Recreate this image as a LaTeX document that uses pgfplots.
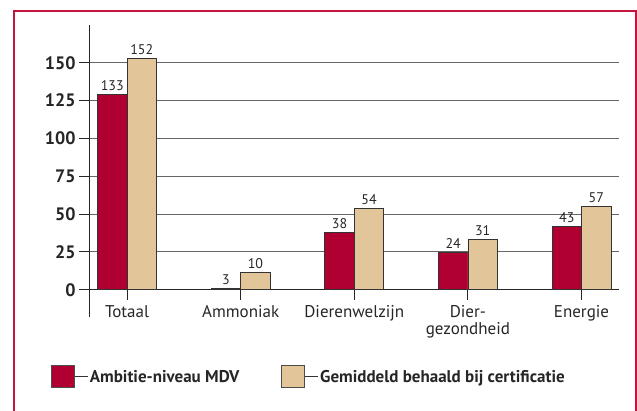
\documentclass[border=0pt]{standalone}
\usepackage{pgfplots}
\pgfplotsset{compat=1.18}
\usepackage{fontspec}
\setmainfont{PT Sans}
\definecolor{barred}{HTML}{B00032}
\definecolor{bartan}{HTML}{E2C598}
\definecolor{framered}{HTML}{C4143F}
\begin{document}
\begin{tikzpicture}[x=1bp,y=1bp]
\path[use as bounding box] (0,0) rectangle (637,410);
\draw[framered, line width=2bp] (14,-10) -- (14,399) -- (636,399) -- (636,-10);
\begin{axis}[
  at={(89bp,93bp)}, anchor=south west,
  scale only axis, width=530bp, height=292bp,
  xmin=-0.335, xmax=4.33, ymin=-18, ymax=175,
  axis x line=middle, axis y line=left,
  axis line style={-, black!85, line width=1bp},
  ytick={0,25,...,150},
  ymajorgrids, grid style={black!60, line width=0.9bp},
  tick align=outside, major tick length=10bp,
  tick style={black!85, line width=0.9bp},
  xtick={0,...,4},
  xticklabels={Totaal, Ammoniak, Dierenwelzijn, {Dier-\\gezondheid}, Energie},
  x tick label style={align=center, font=\fontsize{17bp}{17bp}\selectfont, text=black!85, yshift=-2bp},
  y tick label style={font=\bfseries\fontsize{18bp}{20bp}\selectfont, text=black!85},
  /pgf/number format/assume math mode=true,
  ybar=0pt, bar width=29.5bp,
  nodes near coords, point meta=explicit symbolic,
  nodes near coords style={font=\fontsize{14bp}{16bp}\selectfont, text=black!85},
  legend style={at={(-0.0775,-0.205)}, anchor=west, legend columns=2, draw=none, fill=none,
    font=\bfseries\fontsize{17bp}{19bp}\selectfont, text=black!85,
    /tikz/every even column/.append style={column sep=40bp}},
  legend image code/.code={\draw[#1, draw=black!70, line width=0.8bp] (0bp,-11bp) rectangle (23bp,11bp); \path (23bp,0) -- (36bp,0);},
]
\addplot[fill=barred, draw=black!80, line width=0.8bp] coordinates {(0,129) [133] (1,0.6) [3] (2,37.7) [38] (3,24.9) [24] (4,42.1) [43]};
\addplot[fill=bartan, draw=black!80, line width=0.8bp] coordinates {(0,153) [152] (1,11.7) [10] (2,53.5) [54] (3,33.3) [31] (4,55.3) [57]};
\legend{Ambitie-niveau MDV, Gemiddeld behaald bij certificatie}
\end{axis}
\end{tikzpicture}
\end{document}
